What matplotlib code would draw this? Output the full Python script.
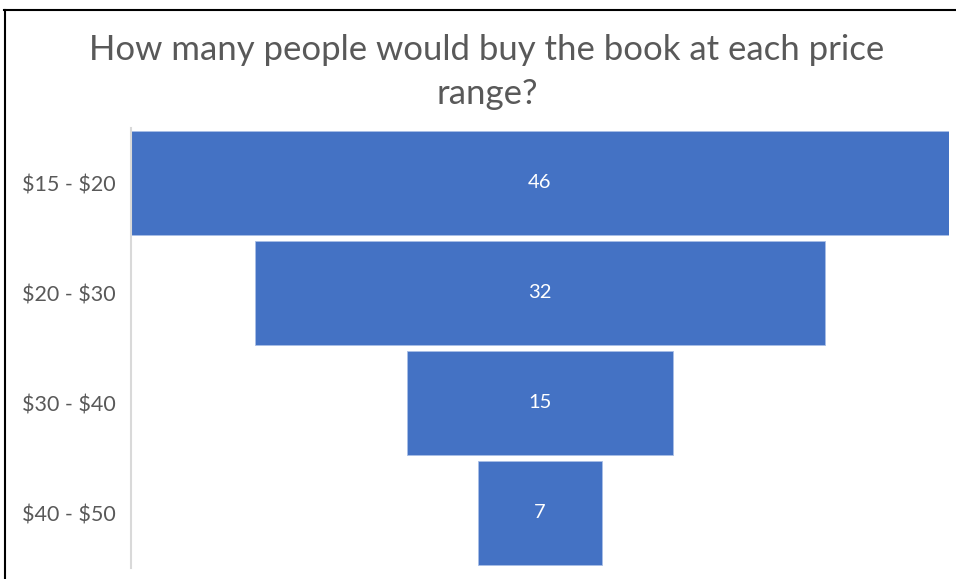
import matplotlib
matplotlib.use("Agg")
import matplotlib.pyplot as plt
from matplotlib.lines import Line2D

# data
price_ranges = ["\\$15 - \\$20", "\\$20 - \\$30", "\\$30 - \\$40", "\\$40 - \\$50"]
buyers = [46, 32, 15, 7]

title = "How many people would buy the book at each price\nrange?"
bar_color = "#4472C4"
text_color = "#595959"

plt.rcParams['font.family'] = ['Lato', 'DejaVu Sans']

W, H = 956, 579
fig = plt.figure(figsize=(W / 100, H / 100), dpi=100)

ax = fig.add_axes([131 / W, (H - 568) / H, 818 / W, 440 / H])
ypos = list(range(len(buyers)))
lefts = [-v / 2 for v in buyers]
ax.barh(ypos, buyers, left=lefts, height=0.94, color=bar_color,
        edgecolor="#A9BFE6", linewidth=0.6)

for y, v in zip(ypos, buyers):
    ax.text(0, y, str(v), color="white", ha="center", va="center", fontsize=14.5)

ax.set_xlim(-max(buyers) / 2, max(buyers) / 2)
ax.set_ylim(len(buyers) - 0.5, -0.5)
ax.set_yticks(ypos)
ax.set_yticklabels(price_ranges, color=text_color, fontsize=15.5)
ax.tick_params(axis="y", length=0, pad=11)
ax.set_xticks([])
for s in ["top", "right", "bottom"]:
    ax.spines[s].set_visible(False)
ax.spines["left"].set_color("#D9D9D9")
ax.spines["left"].set_linewidth(1.5)

fig.text(487 / W, 1 - 72 / H, title, ha="center", va="center",
         color=text_color, fontsize=25, linespacing=1.45)

# outer frame pieces visible in the reference
fig.add_artist(Line2D([4 / W, 1], [1 - 9.5 / H, 1 - 9.5 / H], color="black", lw=1.5))
fig.add_artist(Line2D([4.5 / W, 4.5 / W], [0, 1 - 9.5 / H], color="black", lw=1.5))

fig.savefig("out.png", dpi=100)
plt.close(fig)
